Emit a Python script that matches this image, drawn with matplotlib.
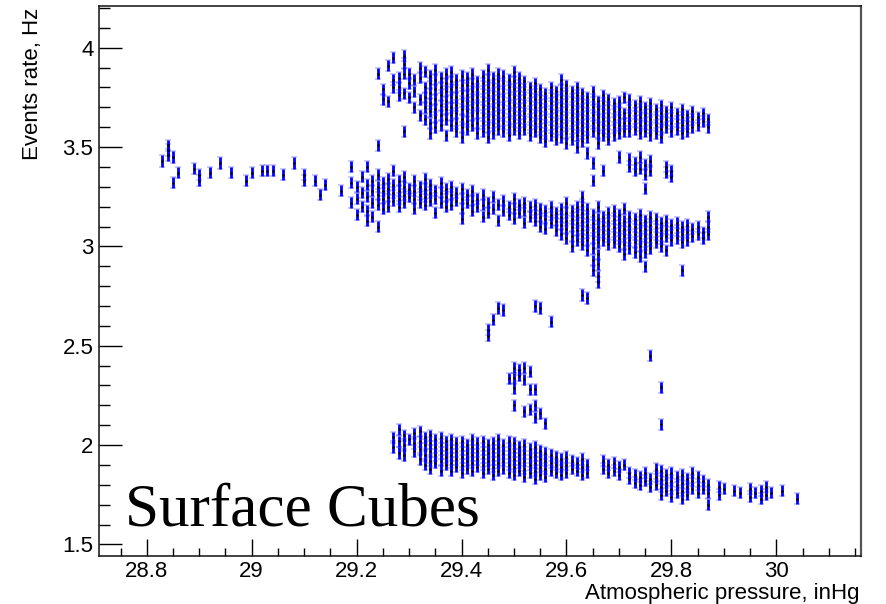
import numpy as np
import matplotlib
matplotlib.use('Agg')
from matplotlib import pyplot as plt
from matplotlib.ticker import MultipleLocator

#########
# data: each band is a list of pressure columns (0.01 inHg steps)
# and, for every column, the event rates measured at that pressure
#########

upper_p = [29.24, 29.25, 29.26, 29.27, 29.28, 29.29, 29.30, 29.31, 29.32, 29.33,
           29.34, 29.35, 29.36, 29.37, 29.38, 29.39, 29.40, 29.41, 29.42, 29.43,
           29.44, 29.45, 29.46, 29.47, 29.48, 29.49, 29.50, 29.51, 29.52, 29.53,
           29.54, 29.55, 29.56, 29.57, 29.58, 29.59, 29.60, 29.61, 29.62, 29.63,
           29.64, 29.65, 29.66, 29.67, 29.68, 29.69, 29.70, 29.71, 29.72, 29.73,
           29.74, 29.75, 29.76, 29.77, 29.78, 29.79, 29.80, 29.81, 29.82, 29.83,
           29.84, 29.85, 29.86, 29.87]
upper_rate = [
    [3.87, 3.51], [3.74, 3.79], [3.91, 3.73], [3.95, 3.84, 3.80], [3.85, 3.80, 3.76],
    [3.96, 3.92, 3.87, 3.77, 3.58], [3.87, 3.82, 3.75], [3.84, 3.78, 3.70],
    [3.90, 3.85, 3.74, 3.66], [3.88, 3.80, 3.75, 3.70, 3.64],
    [3.86, 3.82, 3.77, 3.72, 3.68, 3.62, 3.57], [3.89, 3.84, 3.79, 3.74, 3.69, 3.65, 3.60],
    [3.85, 3.80, 3.76, 3.71, 3.66, 3.61], [3.87, 3.82, 3.78, 3.73, 3.69, 3.64, 3.56],
    [3.88, 3.83, 3.79, 3.75, 3.70, 3.66, 3.61], [3.84, 3.80, 3.75, 3.71, 3.67, 3.62, 3.58],
    [3.86, 3.81, 3.77, 3.73, 3.69, 3.64, 3.60, 3.55], [3.85, 3.81, 3.76, 3.72, 3.68, 3.63, 3.59],
    [3.87, 3.82, 3.78, 3.74, 3.70, 3.66, 3.61], [3.83, 3.79, 3.75, 3.71, 3.67, 3.62, 3.57],
    [3.86, 3.82, 3.78, 3.74, 3.70, 3.66, 3.62, 3.58],
    [3.89, 3.84, 3.80, 3.76, 3.72, 3.68, 3.64, 3.60, 3.55],
    [3.85, 3.81, 3.77, 3.73, 3.69, 3.65, 3.61, 3.57], [3.87, 3.83, 3.79, 3.75, 3.71, 3.67, 3.63, 3.59],
    [3.86, 3.82, 3.78, 3.74, 3.70, 3.66, 3.62, 3.58], [3.84, 3.80, 3.76, 3.72, 3.68, 3.64, 3.60, 3.56],
    [3.88, 3.83, 3.79, 3.75, 3.71, 3.67, 3.63, 3.59], [3.85, 3.81, 3.77, 3.73, 3.69, 3.65, 3.61, 3.57],
    [3.83, 3.79, 3.75, 3.71, 3.67, 3.63, 3.59], [3.80, 3.76, 3.72, 3.68, 3.64, 3.60, 3.56],
    [3.82, 3.78, 3.74, 3.70, 3.66, 3.62, 3.58], [3.79, 3.75, 3.71, 3.67, 3.63, 3.59, 3.55],
    [3.77, 3.73, 3.69, 3.65, 3.61, 3.57, 3.53], [3.80, 3.76, 3.72, 3.68, 3.64, 3.60, 3.56],
    [3.78, 3.74, 3.70, 3.66, 3.62, 3.58, 3.54], [3.84, 3.79, 3.75, 3.71, 3.67, 3.63, 3.59, 3.55],
    [3.81, 3.77, 3.73, 3.69, 3.65, 3.61, 3.57, 3.52], [3.78, 3.74, 3.70, 3.66, 3.62, 3.58, 3.54],
    [3.80, 3.76, 3.72, 3.68, 3.64, 3.60, 3.56, 3.50], [3.77, 3.73, 3.69, 3.65, 3.61, 3.57, 3.53],
    [3.75, 3.71, 3.67, 3.63, 3.59, 3.55, 3.47], [3.78, 3.74, 3.70, 3.66, 3.62, 3.58, 3.42, 3.33],
    [3.73, 3.69, 3.65, 3.61, 3.57, 3.52], [3.76, 3.72, 3.68, 3.64, 3.60, 3.56, 3.38],
    [3.74, 3.70, 3.66, 3.62, 3.58, 3.54], [3.72, 3.68, 3.64, 3.60, 3.56],
    [3.73, 3.69, 3.65, 3.61, 3.57, 3.45], [3.75, 3.67, 3.62, 3.58],
    [3.74, 3.70, 3.66, 3.62, 3.58, 3.44, 3.40], [3.71, 3.67, 3.63, 3.59, 3.42, 3.38],
    [3.73, 3.69, 3.65, 3.61, 3.57, 3.45, 3.39], [3.70, 3.66, 3.62, 3.58, 3.41, 3.36],
    [3.72, 3.68, 3.64, 3.60, 3.56, 3.43, 3.38], [3.69, 3.65, 3.61, 3.57],
    [3.71, 3.67, 3.63, 3.59, 3.55], [3.68, 3.64, 3.60, 3.40, 3.37],
    [3.70, 3.66, 3.62, 3.58, 3.38, 3.35], [3.67, 3.63, 3.59], [3.69, 3.65, 3.61, 3.57],
    [3.66, 3.62, 3.58], [3.68, 3.64, 3.60], [3.65, 3.61], [3.67, 3.63], [3.64, 3.60]]

middle_p = [28.83, 28.84, 28.85, 28.86, 28.89, 28.90, 28.92, 28.94, 28.96, 28.99,
            29.00, 29.02, 29.03, 29.04, 29.06, 29.08, 29.10, 29.12, 29.13, 29.14,
            29.17, 29.19, 29.20, 29.21, 29.22, 29.23, 29.24, 29.25, 29.26, 29.27,
            29.28, 29.29, 29.30, 29.31, 29.32, 29.33, 29.34, 29.35, 29.36, 29.37,
            29.38, 29.39, 29.40, 29.41, 29.42, 29.43, 29.44, 29.45, 29.46, 29.47,
            29.48, 29.49, 29.50, 29.51, 29.52, 29.53, 29.54, 29.55, 29.56, 29.57,
            29.58, 29.59, 29.60, 29.61, 29.62, 29.63, 29.64, 29.65, 29.66, 29.67,
            29.68, 29.69, 29.70, 29.71, 29.72, 29.73, 29.74, 29.75, 29.76, 29.77,
            29.78, 29.79, 29.80, 29.81, 29.82, 29.83, 29.84, 29.85, 29.86, 29.87]
middle_rate = [
    [3.43], [3.51, 3.485, 3.46], [3.45, 3.32], [3.37], [3.39], [3.36, 3.33], [3.37], [3.42],
    [3.37], [3.33], [3.37], [3.38], [3.38], [3.38], [3.36], [3.42], [3.36, 3.33], [3.33],
    [3.26], [3.31], [3.28], [3.40, 3.32, 3.22],
    [3.30, 3.24, 3.16], [3.35, 3.27, 3.20], [3.40, 3.31, 3.25, 3.18, 3.13],
    [3.33, 3.28, 3.22, 3.15], [3.36, 3.30, 3.26, 3.21, 3.10], [3.32, 3.28, 3.24, 3.19],
    [3.34, 3.29, 3.25, 3.20], [3.38, 3.31, 3.27, 3.23], [3.33, 3.28, 3.24, 3.20],
    [3.35, 3.30, 3.26, 3.22], [3.29, 3.25], [3.33, 3.28, 3.24, 3.19], [3.30, 3.26, 3.22],
    [3.34, 3.29, 3.25, 3.21], [3.31, 3.27, 3.23], [3.28, 3.24, 3.17], [3.32, 3.27, 3.22],
    [3.29, 3.25, 3.20], [3.30, 3.26, 3.21], [3.27, 3.23], [3.29, 3.24, 3.19, 3.14],
    [3.26, 3.22], [3.28, 3.23, 3.18], [3.24, 3.20], [3.26, 3.21, 3.15], [3.22, 3.17],
    [3.25, 3.19], [3.21, 3.13], [3.23, 3.18], [3.20, 3.16], [3.24, 3.19, 3.14],
    [3.21, 3.17], [3.22, 3.18, 3.12], [3.20, 3.15], [3.21, 3.17, 3.13], [3.19, 3.15, 3.10],
    [3.18, 3.14, 3.09], [3.20, 3.16, 3.12], [3.17, 3.13, 3.08], [3.19, 3.15, 3.11, 3.06],
    [3.22, 3.17, 3.13, 3.09, 3.04], [3.18, 3.14, 3.10, 3.05, 3.00],
    [3.20, 3.16, 3.12, 3.08, 3.03], [3.25, 3.21, 3.17, 3.13, 3.09, 3.05, 3.01, 2.755],
    [3.19, 3.15, 3.11, 3.07, 3.03, 2.98, 2.74], [3.16, 3.12, 3.08, 3.04, 2.99, 2.93, 2.88],
    [3.20, 3.14, 3.10, 3.06, 3.02, 2.96, 2.91, 2.85, 2.82], [3.15, 3.11, 3.07, 3.03],
    [3.17, 3.13, 3.09, 3.05, 3.01], [3.18, 3.14, 3.10, 3.06, 3.02],
    [3.16, 3.12, 3.08, 3.04, 3.00], [3.19, 3.13, 3.09, 3.05, 3.01, 2.96],
    [3.15, 3.11, 3.07, 3.03, 2.99], [3.14, 3.10, 3.06, 3.02, 2.97],
    [3.16, 3.12, 3.08, 3.04, 3.00, 2.95], [3.29, 3.13, 3.09, 3.05, 3.01, 2.97, 2.90],
    [3.15, 3.11, 3.07, 3.03, 2.99], [3.14, 3.10, 3.06, 3.02], [3.12, 3.08, 3.04, 3.00],
    [3.13, 3.09, 3.05, 2.98], [3.11, 3.07, 3.03], [3.12, 3.08, 3.04],
    [3.10, 3.06, 3.02, 2.88], [3.11, 3.07, 3.03], [3.09, 3.05], [3.10, 3.06], [3.07, 3.04],
    [3.15, 3.10, 3.06]]

# isolated points between the bands
gap_p = [29.45, 29.45, 29.46, 29.47, 29.48, 29.54, 29.55, 29.57,
         29.49, 29.50, 29.50, 29.50, 29.50, 29.51, 29.51, 29.52, 29.52, 29.52,
         29.53, 29.53, 29.53, 29.54, 29.54, 29.54, 29.55, 29.56,
         29.76, 29.78, 29.78]
gap_rate = [2.58, 2.55, 2.63, 2.69, 2.68, 2.70, 2.69, 2.62,
            2.335, 2.39, 2.335, 2.285, 2.20, 2.38, 2.35, 2.39, 2.33, 2.17,
            2.37, 2.28, 2.18, 2.28, 2.20, 2.14, 2.16, 2.11,
            2.45, 2.29, 2.105]

lower_p = [29.27, 29.28, 29.29, 29.30, 29.31, 29.32, 29.33, 29.34, 29.35, 29.36,
           29.37, 29.38, 29.39, 29.40, 29.41, 29.42, 29.43, 29.44, 29.45, 29.46,
           29.47, 29.48, 29.49, 29.50, 29.51, 29.52, 29.53, 29.54, 29.55, 29.56,
           29.57, 29.58, 29.59, 29.60, 29.61, 29.62, 29.63, 29.64, 29.67, 29.68,
           29.69, 29.70, 29.71, 29.72, 29.73, 29.74, 29.75, 29.76, 29.77, 29.78,
           29.79, 29.80, 29.81, 29.82, 29.83, 29.84, 29.85, 29.86, 29.87, 29.89,
           29.90, 29.92, 29.93, 29.95, 29.96, 29.97, 29.98, 29.99, 30.01, 30.04]
lower_rate = [
    [2.04, 1.99], [2.08, 2.02, 1.96], [2.05, 2.00, 1.95], [2.03], [2.06, 2.01, 1.97],
    [2.07, 2.02, 1.98, 1.93], [2.04, 2.00, 1.95, 1.90], [2.05, 2.01, 1.97, 1.92, 1.88],
    [2.03, 1.99, 1.95, 1.91], [2.04, 2.00, 1.96, 1.92, 1.87], [2.02, 1.98, 1.94, 1.90],
    [2.03, 1.99, 1.95, 1.91, 1.87], [2.01, 1.97, 1.93, 1.89], [2.02, 1.98, 1.94, 1.90, 1.86],
    [2.00, 1.96, 1.92, 1.88], [2.03, 1.99, 1.95, 1.91, 1.87], [2.01, 1.97, 1.93, 1.89],
    [2.02, 1.98, 1.94, 1.90, 1.86], [2.00, 1.96, 1.92, 1.88], [2.01, 1.97, 1.93, 1.89, 1.85],
    [2.03, 1.99, 1.95, 1.91, 1.87], [2.00, 1.96, 1.92, 1.88], [2.02, 1.98, 1.94, 1.90, 1.86],
    [2.01, 1.97, 1.93, 1.89, 1.85], [1.99, 1.95, 1.91, 1.87], [2.00, 1.96, 1.92, 1.88, 1.84],
    [1.98, 1.94, 1.90, 1.86], [1.99, 1.95, 1.91, 1.87, 1.83], [1.97, 1.93, 1.89, 1.85],
    [1.96, 1.92, 1.88, 1.84], [1.95, 1.91, 1.87], [1.94, 1.90, 1.86], [1.93, 1.89, 1.85],
    [1.94, 1.90, 1.86], [1.92, 1.88], [1.91, 1.87], [1.93, 1.89, 1.85], [1.90, 1.86],
    [1.92, 1.88], [1.90, 1.86], [1.91, 1.87], [1.89, 1.85], [1.90], [1.86, 1.83],
    [1.85, 1.81], [1.84, 1.80], [1.86, 1.82], [1.83, 1.79], [1.88, 1.84, 1.80],
    [1.87, 1.83, 1.79, 1.75], [1.85, 1.81, 1.77], [1.86, 1.82, 1.78, 1.74],
    [1.84, 1.80, 1.76], [1.85, 1.81, 1.77, 1.73], [1.83, 1.79, 1.75], [1.86, 1.82, 1.78],
    [1.84, 1.80, 1.76], [1.82, 1.78], [1.80, 1.76, 1.70], [1.79, 1.75], [1.78], [1.77],
    [1.76], [1.78, 1.74], [1.76], [1.77, 1.73], [1.79, 1.75], [1.76], [1.77], [1.73]]

rate_err = 0.028


def flatten(cols, rates):
    '''
    - expand column lists into matching x / y arrays
    '''
    x = [p for p, r in zip(cols, rates) for _ in r]
    y = [v for r in rates for v in r]
    return x, y


ux, uy = flatten(upper_p, upper_rate)
mx, my = flatten(middle_p, middle_rate)
lx, ly = flatten(lower_p, lower_rate)
all_x = ux + mx + gap_p + lx
all_y = uy + my + gap_rate + ly

############
# draw it
############

plt.rcParams['font.family'] = ['Liberation Sans', 'DejaVu Sans']

fig = plt.figure(figsize=(8.87, 6.04), dpi=100)
ax = fig.add_axes([99 / 887, 1 - 555.5 / 604, (861.3 - 99) / 887, (555.5 - 6) / 604])

ax.errorbar(all_x, all_y, yerr=rate_err, fmt='s', ms=1.2, mfc='k', mec='k', mew=0.3,
            ecolor='#0000ff', elinewidth=2.0, capsize=2.0, capthick=2.0)

ax.set_xlim(28.709, 30.162)
ax.set_ylim(1.444, 4.21)
ax.xaxis.set_major_locator(MultipleLocator(0.2))
ax.xaxis.set_minor_locator(MultipleLocator(0.05))
ax.yaxis.set_major_locator(MultipleLocator(0.5))
ax.yaxis.set_minor_locator(MultipleLocator(0.1))
ax.xaxis.set_major_formatter(plt.FuncFormatter(lambda v, _: ('%.1f' % v).rstrip('0').rstrip('.')))
ax.yaxis.set_major_formatter(plt.FuncFormatter(lambda v, _: ('%.1f' % v).rstrip('0').rstrip('.')))

ax.tick_params(axis='x', which='major', direction='in', length=12, width=1, labelsize=16, pad=4)
ax.tick_params(axis='x', which='minor', direction='in', length=6, width=1)
ax.tick_params(axis='y', which='major', direction='in', length=16.5, width=1, labelsize=16, pad=4)
ax.tick_params(axis='y', which='minor', direction='in', length=8, width=1)
for s in ['left', 'bottom', 'top']:
    ax.spines[s].set_linewidth(1.1)
    ax.spines[s].set_color('#111111')
ax.spines['right'].set_linewidth(1.6)
ax.spines['right'].set_color('#555555')

fig.text(860 / 887, 1 - 599 / 604, 'Atmospheric pressure, inHg', ha='right', va='baseline', fontsize=16)
fig.text(33 / 887, 1 - 8 / 604, 'Events rate, Hz', rotation=90, ha='center', va='top', fontsize=16)
fig.text(125 / 887, 1 - 525 / 604, 'Surface Cubes', ha='left', va='baseline',
         fontsize=44, family=['Liberation Serif', 'DejaVu Serif'])

plt.savefig('out.png', dpi=100)
